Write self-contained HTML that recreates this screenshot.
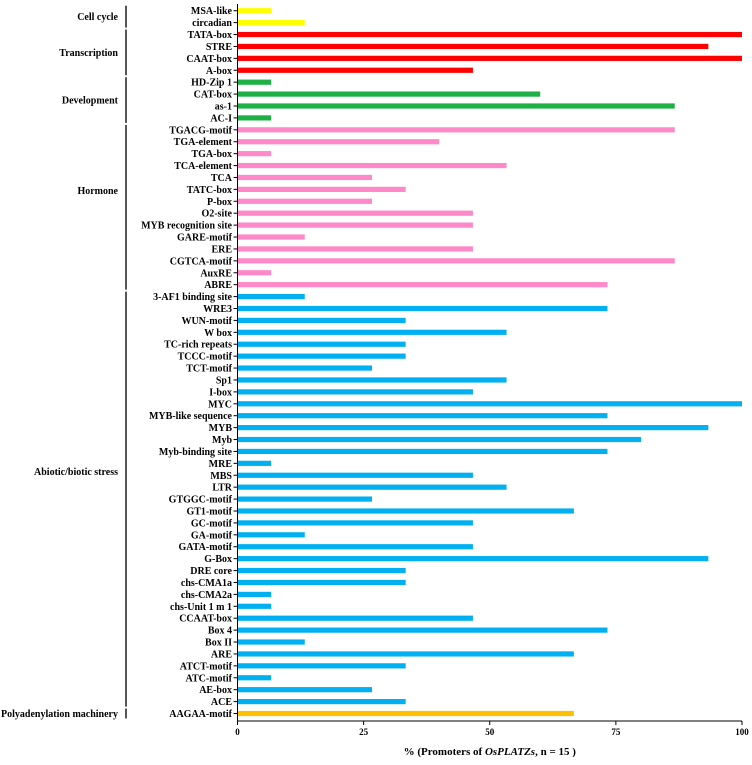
<!DOCTYPE html>
<html><head><meta charset="utf-8"><style>
body{margin:0;background:#fff;width:752px;height:760px;overflow:hidden}
text{font-family:"Liberation Serif",serif;font-weight:bold;font-size:10px;fill:#000}
</style></head><body>
<svg id="chart" width="752" height="760" xmlns="http://www.w3.org/2000/svg"></svg>
<script>
const labels=["MSA-like","circadian","TATA-box","STRE","CAAT-box","A-box","HD-Zip 1","CAT-box","as-1","AC-I","TGACG-motif","TGA-element","TGA-box","TCA-element","TCA","TATC-box","P-box","O2-site","MYB recognition site","GARE-motif","ERE","CGTCA-motif","AuxRE","ABRE","3-AF1 binding site","WRE3","WUN-motif","W box","TC-rich repeats","TCCC-motif","TCT-motif","Sp1","I-box","MYC","MYB-like sequence","MYB","Myb","Myb-binding site","MRE","MBS","LTR","GTGGC-motif","GT1-motif","GC-motif","GA-motif","GATA-motif","G-Box","DRE core","chs-CMA1a","chs-CMA2a","chs-Unit 1 m 1","CCAAT-box","Box 4","Box II","ARE","ATCT-motif","ATC-motif","AE-box","ACE","AAGAA-motif"];
const values=[6.67,13.33,100,93.33,100,46.67,6.67,60,86.67,6.67,86.67,40,6.67,53.33,26.67,33.33,26.67,46.67,46.67,13.33,46.67,86.67,6.67,73.33,13.33,73.33,33.33,53.33,33.33,33.33,26.67,53.33,46.67,100,73.33,93.33,80,73.33,6.67,46.67,53.33,26.67,66.67,46.67,13.33,46.67,93.33,33.33,33.33,6.67,6.67,46.67,73.33,13.33,66.67,33.33,6.67,26.67,33.33,66.67];
const groupNames=["Cell cycle","Transcription","Development","Hormone","Abiotic/biotic stress","Polyadenylation machinery"];
const groupSizes=[2,4,4,14,35,1];
const groupLabelRow=[0.5,1.5,1.5,5.1,14.7,0];
const groupColors=["#ffff00","#ff0000","#1db045","#ff88c8","#00b0f0","#ffc000"];
const ticks=[0,25,50,75,100];
const svg=document.getElementById('chart');const NS="http://www.w3.org/2000/svg";
const x0=237.5,x1=742,yTop=10.7,yBot=713.5,ax=721;
const X=v=>x0+(x1-x0)*v/100;
const Y=i=>yTop+(yBot-yTop)*i/(labels.length-1);
function el(t,a,txt){const e=document.createElementNS(NS,t);for(const k in a)e.setAttribute(k,a[k]);if(txt!==undefined)e.textContent=txt;svg.appendChild(e);return e;}
let gi=0,cnt=0;
labels.forEach((lab,i)=>{
 while(cnt>=groupSizes[gi]){gi++;cnt=0;}cnt++;
 const y=Y(i);
 const b=el('rect',{x:x0,y:y-2.6,width:X(values[i])-x0,height:5.2,fill:groupColors[gi]});
 
 
 const t=el('text',{x:232,y:y+3.5,'text-anchor':'end'},lab);
 
 
 el('line',{x1:x0-4,x2:x0,y1:y,y2:y,stroke:'#000','stroke-width':1});
});
let start=0;
groupSizes.forEach((n,g)=>{
 const ya=Y(start)-5,yb=Y(start+n-1)+5;
 const l=el('line',{x1:126,x2:126,y1:ya,y2:yb,stroke:'#444','stroke-width':1.8});
 
 
 const t=el('text',{x:118,y:Y(start+groupLabelRow[g])+3.5,'text-anchor':'end'},groupNames[g]);
 
 
 start+=n;
});
el('line',{x1:x0,x2:x0,y1:4,y2:ax,stroke:'#000','stroke-width':1});
el('line',{x1:x0,x2:x1,y1:ax,y2:ax,stroke:'#000','stroke-width':1});
ticks.forEach(v=>{
 el('line',{x1:X(v),x2:X(v),y1:ax,y2:ax+4,stroke:'#000','stroke-width':1});
 const t=el('text',{x:X(v),y:ax+14,'text-anchor':'middle',style:'font-size:9px'},String(v));
 
 
});
const xt=el('text',{x:X(50),y:755,'text-anchor':'middle',style:'font-size:11px'});


xt.innerHTML='% (Promoters of <tspan font-style="italic">OsPLATZs</tspan>, n = 15 )';
</script>
</body></html>
